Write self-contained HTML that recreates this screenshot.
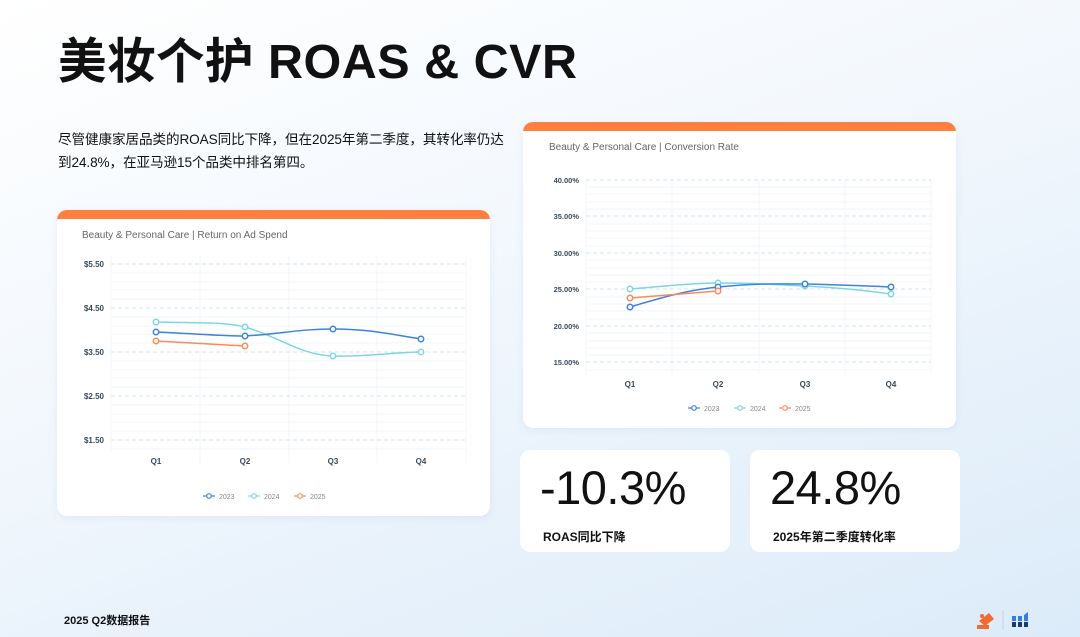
<!DOCTYPE html>
<html><head><meta charset="utf-8"><style>
*{margin:0;padding:0;box-sizing:border-box}
body{width:1080px;height:637px;overflow:hidden;position:relative;font-family:"Liberation Sans","Noto Sans CJK SC",sans-serif;background:linear-gradient(160deg,#ffffff 0%,#f3f8fd 40%,#dcebf9 100%);color:#111}
.abs{position:absolute}
.card{position:absolute;background:#fff;border-radius:10px;overflow:hidden;box-shadow:0 2px 8px rgba(120,150,190,0.12)}
.card .bar{height:9px;background:#ff7f3f}
.stat{position:absolute;background:#fff;border-radius:10px}
.big{position:absolute;left:20px;top:10px;font-size:47px;font-weight:400;color:#111;letter-spacing:-0.5px}
.lbl{position:absolute;left:23px;top:78px;font-size:12px;font-weight:bold}
</style></head><body>
<div class="abs" style="left:58px;top:22px;font-size:48.5px;font-weight:bold;letter-spacing:0.5px">美妆个护 ROAS &amp; CVR</div>
<div class="abs" style="left:58px;top:128px;font-size:13.6px;line-height:23px;width:452px;letter-spacing:-0.1px">尽管健康家居品类的ROAS同比下降，但在2025年第二季度，其转化率仍达到24.8%，在亚马逊15个品类中排名第四。</div>

<div class="card" style="left:57px;top:210px;width:433px;height:306px"><div class="bar"></div></div>
<svg class="abs" style="left:0;top:0" width="1080" height="637">
<g font-family="Liberation Sans,sans-serif">
<text x="82" y="238" font-size="10" fill="#666">Beauty &amp; Personal Care |  Return on Ad Spend</text>
<g stroke="#f3f5f8" stroke-width="1">
<line x1="111" y1="255" x2="111" y2="452"/><line x1="200" y1="255" x2="200" y2="465"/><line x1="289" y1="255" x2="289" y2="465"/><line x1="377" y1="255" x2="377" y2="465"/><line x1="466" y1="255" x2="466" y2="465"/>
<line x1="111" y1="273" x2="466" y2="273"/><line x1="111" y1="282" x2="466" y2="282"/><line x1="111" y1="290" x2="466" y2="290"/><line x1="111" y1="299" x2="466" y2="299"/>
<line x1="111" y1="317" x2="466" y2="317"/><line x1="111" y1="326" x2="466" y2="326"/><line x1="111" y1="334" x2="466" y2="334"/><line x1="111" y1="343" x2="466" y2="343"/>
<line x1="111" y1="361" x2="466" y2="361"/><line x1="111" y1="370" x2="466" y2="370"/><line x1="111" y1="378" x2="466" y2="378"/><line x1="111" y1="387" x2="466" y2="387"/>
<line x1="111" y1="405" x2="466" y2="405"/><line x1="111" y1="414" x2="466" y2="414"/><line x1="111" y1="422" x2="466" y2="422"/><line x1="111" y1="431" x2="466" y2="431"/><line x1="111" y1="449" x2="466" y2="449"/>
</g>
<g stroke="#d3e6f0" stroke-dasharray="4,3"><line x1="111" y1="264" x2="466" y2="264"/><line x1="111" y1="308" x2="466" y2="308"/><line x1="111" y1="352" x2="466" y2="352"/><line x1="111" y1="396" x2="466" y2="396"/><line x1="111" y1="440" x2="466" y2="440"/></g>
<g font-size="8" font-weight="bold" fill="#3a4a5a" text-anchor="end"><text x="104" y="267">$5.50</text><text x="104" y="311">$4.50</text><text x="104" y="355">$3.50</text><text x="104" y="399">$2.50</text><text x="104" y="443">$1.50</text></g>
<g font-size="8" font-weight="bold" fill="#3a4a5a" text-anchor="middle"><text x="156" y="464">Q1</text><text x="245" y="464">Q2</text><text x="333" y="464">Q3</text><text x="421" y="464">Q4</text></g>
<g fill="#fff" stroke-width="1.5">
<path d="M156,322 C200,323 225,322 245,327 C280,337 300,355 333,356 C370,357 395,352 421,352" stroke="#7fd6e2" fill="none"/>
<path d="M156,332 C200,334 220,336 245,336 C280,334 300,329 333,329 C370,329 395,335 421,339" stroke="#3b82e6" fill="none"/>
<path d="M156,341 L245,346" stroke="#ff8a55" fill="none"/>
<g stroke="#7fd6e2"><circle cx="156" cy="322" r="2.7"/><circle cx="245" cy="327" r="2.7"/><circle cx="333" cy="356" r="2.7"/><circle cx="421" cy="352" r="2.7"/></g>
<g stroke="#3b82e6"><circle cx="156" cy="332" r="2.7"/><circle cx="245" cy="336" r="2.7"/><circle cx="333" cy="329" r="2.7"/><circle cx="421" cy="339" r="2.7"/></g>
<g stroke="#ff8a55"><circle cx="156" cy="341" r="2.7"/><circle cx="245" cy="346" r="2.7"/></g>
</g>
<g font-size="7" fill="#888" stroke-width="1.2">
<line x1="203" y1="496" x2="215" y2="496" stroke="#3b82e6"/><circle cx="209" cy="496" r="2.3" fill="#fff" stroke="#3b82e6"/><text x="219" y="499">2023</text>
<line x1="248" y1="496" x2="260" y2="496" stroke="#7fd6e2"/><circle cx="254" cy="496" r="2.3" fill="#fff" stroke="#7fd6e2"/><text x="264" y="499">2024</text>
<line x1="294" y1="496" x2="306" y2="496" stroke="#ff8a55"/><circle cx="300" cy="496" r="2.3" fill="#fff" stroke="#ff8a55"/><text x="310" y="499">2025</text>
</g>
</g>
</svg>

<div class="card" style="left:523px;top:122px;width:433px;height:306px"><div class="bar"></div></div>
<svg class="abs" style="left:0;top:0" width="1080" height="637">
<g font-family="Liberation Sans,sans-serif">
<text x="549" y="150" font-size="10" fill="#666">Beauty &amp; Personal Care |  Conversion Rate</text>
<g stroke="#f3f5f8">
<line x1="586" y1="180" x2="586" y2="374"/><line x1="672" y1="180" x2="672" y2="374"/><line x1="759" y1="180" x2="759" y2="374"/><line x1="845" y1="180" x2="845" y2="374"/><line x1="931" y1="180" x2="931" y2="374"/>
<line x1="586" y1="187" x2="931" y2="187"/><line x1="586" y1="194" x2="931" y2="194"/><line x1="586" y1="202" x2="931" y2="202"/><line x1="586" y1="209" x2="931" y2="209"/>
<line x1="586" y1="224" x2="931" y2="224"/><line x1="586" y1="231" x2="931" y2="231"/><line x1="586" y1="238" x2="931" y2="238"/><line x1="586" y1="246" x2="931" y2="246"/>
<line x1="586" y1="260" x2="931" y2="260"/><line x1="586" y1="268" x2="931" y2="268"/><line x1="586" y1="275" x2="931" y2="275"/><line x1="586" y1="282" x2="931" y2="282"/>
<line x1="586" y1="297" x2="931" y2="297"/><line x1="586" y1="304" x2="931" y2="304"/><line x1="586" y1="311" x2="931" y2="311"/><line x1="586" y1="319" x2="931" y2="319"/>
<line x1="586" y1="333" x2="931" y2="333"/><line x1="586" y1="341" x2="931" y2="341"/><line x1="586" y1="348" x2="931" y2="348"/><line x1="586" y1="355" x2="931" y2="355"/><line x1="586" y1="370" x2="931" y2="370"/>
</g>
<g stroke="#d3e6f0" stroke-dasharray="4,3"><line x1="586" y1="180" x2="931" y2="180"/><line x1="586" y1="216" x2="931" y2="216"/><line x1="586" y1="253" x2="931" y2="253"/><line x1="586" y1="289" x2="931" y2="289"/><line x1="586" y1="326" x2="931" y2="326"/><line x1="586" y1="362" x2="931" y2="362"/></g>
<g font-size="7.5" font-weight="bold" fill="#3a4a5a" text-anchor="end"><text x="579" y="183">40.00%</text><text x="579" y="219">35.00%</text><text x="579" y="256">30.00%</text><text x="579" y="292">25.00%</text><text x="579" y="329">20.00%</text><text x="579" y="365">15.00%</text></g>
<g font-size="8" font-weight="bold" fill="#3a4a5a" text-anchor="middle"><text x="630" y="387">Q1</text><text x="718" y="387">Q2</text><text x="805" y="387">Q3</text><text x="891" y="387">Q4</text></g>
<g fill="#fff" stroke-width="1.5">
<path d="M630,289 C670,286 690,283 718,283 C760,283 780,285 805,286 C845,288 870,291 891,294" stroke="#7fd6e2" fill="none"/>
<path d="M630,307 C670,295 690,290 718,287 C760,283 780,284 805,284 C845,285 870,286 891,287" stroke="#3b82e6" fill="none"/>
<path d="M630,298 L718,291" stroke="#ff8a55" fill="none"/>
<g stroke="#7fd6e2"><circle cx="630" cy="289" r="2.7"/><circle cx="718" cy="283" r="2.7"/><circle cx="805" cy="286" r="2.7"/><circle cx="891" cy="294" r="2.7"/></g>
<g stroke="#3b82e6"><circle cx="630" cy="307" r="2.7"/><circle cx="718" cy="287" r="2.7"/><circle cx="805" cy="284" r="2.7"/><circle cx="891" cy="287" r="2.7"/></g>
<g stroke="#ff8a55"><circle cx="630" cy="298" r="2.7"/><circle cx="718" cy="291" r="2.7"/></g>
</g>
<g font-size="7" fill="#888" stroke-width="1.2">
<line x1="688" y1="408" x2="700" y2="408" stroke="#3b82e6"/><circle cx="694" cy="408" r="2.3" fill="#fff" stroke="#3b82e6"/><text x="704" y="411">2023</text>
<line x1="734" y1="408" x2="746" y2="408" stroke="#7fd6e2"/><circle cx="740" cy="408" r="2.3" fill="#fff" stroke="#7fd6e2"/><text x="750" y="411">2024</text>
<line x1="779" y1="408" x2="791" y2="408" stroke="#ff8a55"/><circle cx="785" cy="408" r="2.3" fill="#fff" stroke="#ff8a55"/><text x="795" y="411">2025</text>
</g>
</g>
</svg>

<div class="stat" style="left:520px;top:450px;width:210px;height:102px"><div class="big">-10.3%</div><div class="lbl">ROAS同比下降</div></div>
<div class="stat" style="left:750px;top:450px;width:210px;height:102px"><div class="big">24.8%</div><div class="lbl">2025年第二季度转化率</div></div>

<div class="abs" style="left:64px;top:612px;font-size:11px;font-weight:bold">2025 Q2数据报告</div>
<svg class="abs" style="left:975px;top:607px" width="60" height="26">
<path d="M4,14 L14,6 L19,12 L10,19 Z" fill="#f26a2e"/><rect x="2" y="18" width="12" height="4" fill="#f26a2e"/><circle cx="7" cy="9" r="2" fill="#f26a2e"/>
<line x1="28" y1="3" x2="28" y2="23" stroke="#c5d3e0"/>
<rect x="37" y="9" width="4" height="5" fill="#2f7ee8"/><rect x="43" y="9" width="4" height="5" fill="#2f7ee8"/><path d="M49,8 L53,5 L53,14 L49,14Z" fill="#2f7ee8"/>
<rect x="37" y="15" width="4" height="5" fill="#173a7a"/><rect x="43" y="15" width="4" height="5" fill="#173a7a"/><rect x="49" y="15" width="4" height="5" fill="#173a7a"/>
</svg>
</body></html>
